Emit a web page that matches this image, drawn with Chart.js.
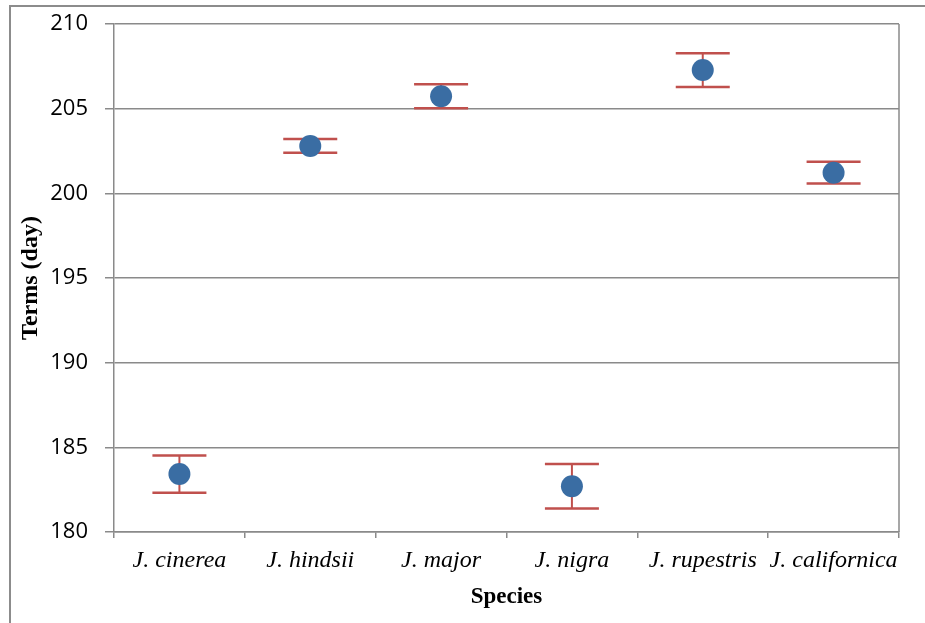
<!DOCTYPE html>
<html>
<head>
<meta charset="utf-8">
<script src="https://cdn.jsdelivr.net/npm/chart.js@4"></script>
<style>
  html, body { margin: 0; padding: 0; background: #fff; overflow: hidden; }
  #frame { position: absolute; left: 9px; top: 5px; width: 1000px; height: 1000px; border-left: 2px solid #8c8c8c; border-top: 2px solid #8c8c8c; }
  #chart-terms { position: absolute; left: 0; top: 0; }
</style>
</head>
<body>
<div id="frame"></div>
<canvas id="chart-terms" width="925" height="623"></canvas>
<script>
// Flowering terms by species (mean +/- error)
const species = ['J. cinerea', 'J. hindsii', 'J. major', 'J. nigra', 'J. rupestris', 'J. californica'];
const meanDays = [183.42, 202.8, 205.73, 182.7, 207.28, 201.22];
const errDays = [1.1, 0.41, 0.71, 1.31, 1.0, 0.64];
const yTicks = [180, 185, 190, 195, 200, 205, 210];

const colors = {
  point: '#3A6DA3',
  error: '#C0504D',
  grid: '#8a8a8a',
  text: '#000000'
};

// Error bars drawn under the points
const errorBars = {
  id: 'errorBars',
  beforeDatasetsDraw(chart) {
    const { ctx, scales: { x, y } } = chart;
    ctx.save();
    ctx.strokeStyle = colors.error;
    meanDays.forEach((m, i) => {
      const px = x.getPixelForValue(i);
      const hi = y.getPixelForValue(m + errDays[i]);
      const lo = y.getPixelForValue(m - errDays[i]);
      ctx.lineWidth = 2;
      ctx.beginPath();
      ctx.moveTo(px, hi);
      ctx.lineTo(px, lo);
      ctx.stroke();
      ctx.lineWidth = 2.5;
      ctx.beginPath();
      ctx.moveTo(px - 27, hi);
      ctx.lineTo(px + 27, hi);
      ctx.moveTo(px - 27, lo);
      ctx.lineTo(px + 27, lo);
      ctx.stroke();
    });
    ctx.restore();
  }
};

// Right edge of plot area
const plotBorder = {
  id: 'plotBorder',
  beforeDatasetsDraw(chart) {
    const { ctx, chartArea } = chart;
    ctx.save();
    ctx.strokeStyle = colors.grid;
    ctx.lineWidth = 1.5;
    ctx.beginPath();
    ctx.moveTo(chartArea.right, chartArea.top);
    ctx.lineTo(chartArea.right, chartArea.bottom);
    ctx.stroke();
    ctx.restore();
  }
};

new Chart(document.getElementById('chart-terms'), {
  type: 'line',
  data: {
    labels: species,
    datasets: [{
      data: meanDays,
      showLine: false,
      pointRadius: 11,
      pointHoverRadius: 11,
      pointBackgroundColor: colors.point,
      pointBorderColor: colors.point,
      pointBorderWidth: 0
    }]
  },
  options: {
    responsive: false,
    animation: false,
    events: [],
    layout: { padding: { left: 0, right: 26, top: 24, bottom: 0 } },
    plugins: { legend: { display: false }, tooltip: { enabled: false } },
    scales: {
      x: {
        offset: true,
        grid: { offset: true, drawOnChartArea: false, drawTicks: true, tickLength: 6, color: colors.grid, lineWidth: 1.5 },
        border: { color: colors.grid, width: 1.5 },
        ticks: { color: colors.text, padding: 8, maxRotation: 0, autoSkip: false,
                 font: { family: '"Liberation Serif", "Times New Roman", serif', style: 'italic', size: 24 } },
        title: { display: true, text: 'Species', color: colors.text, padding: { top: 0, bottom: 12 },
                 font: { family: '"Liberation Serif", "Times New Roman", serif', weight: 'bold', size: 23 } },
        afterFit(scale) { scale.height = 91; scale.paddingLeft = 0; scale.paddingRight = 0; }
      },
      y: {
        min: 180,
        max: 210,
        afterBuildTicks(scale) { scale.ticks = yTicks.map(v => ({ value: v })); },
        grid: { color: colors.grid, lineWidth: 1.5, tickLength: 9 },
        border: { color: colors.grid, width: 1.5 },
        ticks: { color: colors.text, padding: 17,
                 font: { family: '"Open Sans", "Liberation Sans", sans-serif', size: 22 } },
        title: { display: true, text: 'Terms (day)', color: colors.text, padding: { top: 16, bottom: 0 },
                 font: { family: '"Liberation Serif", "Times New Roman", serif', weight: 'bold', size: 24 } },
        afterFit(scale) { scale.width = 114; scale.paddingTop = 0; scale.paddingBottom = 0; }
      }
    }
  },
  plugins: [errorBars, plotBorder]
});
</script>
</body>
</html>
